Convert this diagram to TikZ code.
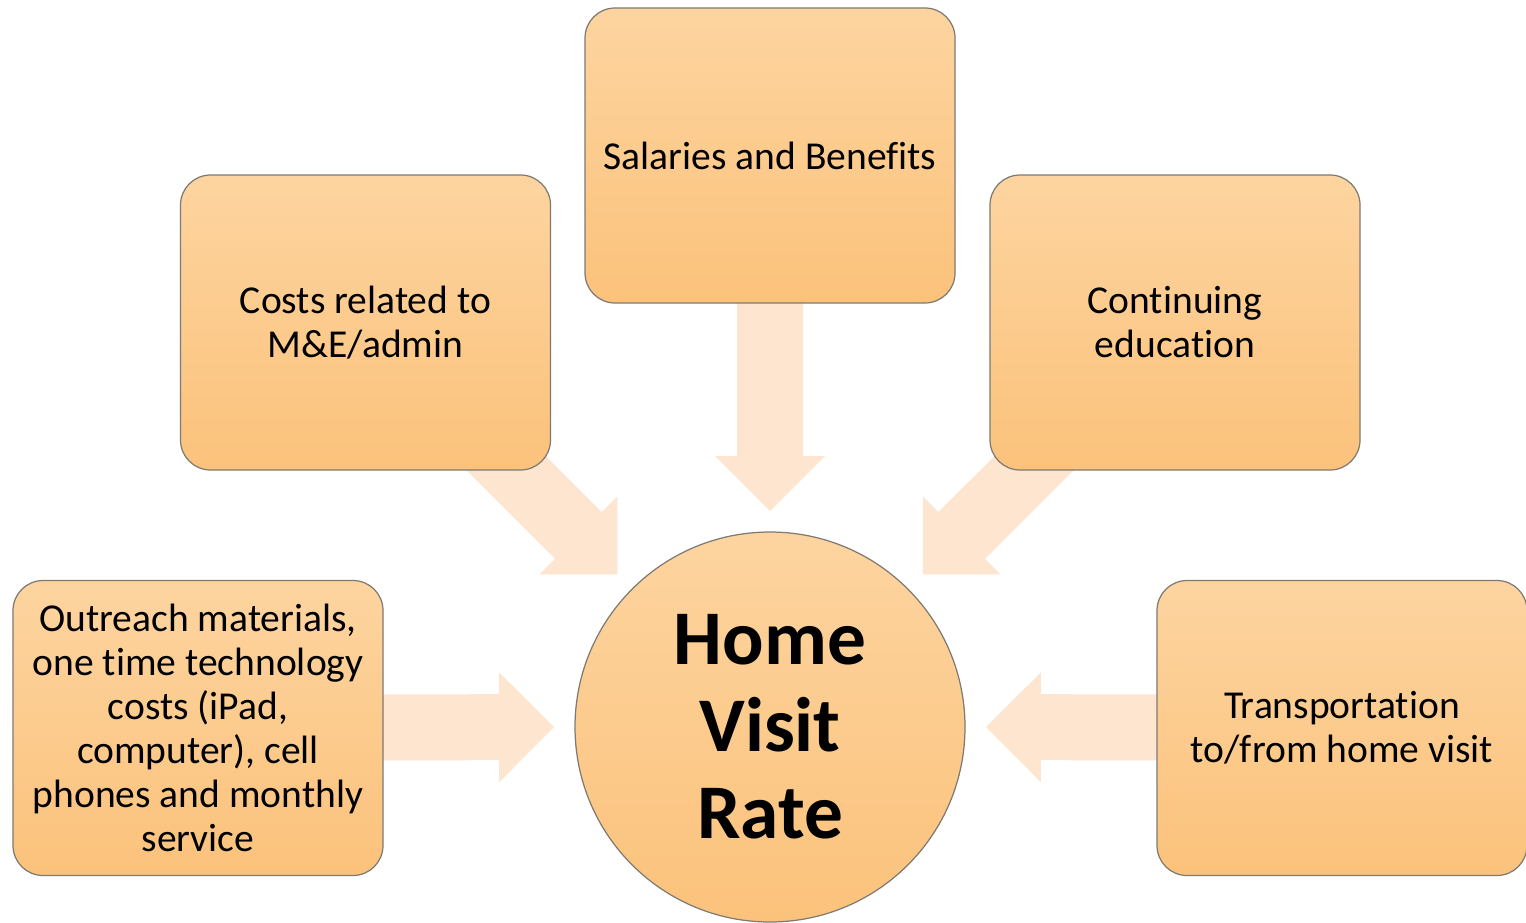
\documentclass[tikz,border=0pt]{standalone}
\usepackage{fontspec}
\setmainfont{Carlito}[Ligatures=NoCommon]
\usepackage{xcolor}
\usepackage{tikz}
\usetikzlibrary{calc,backgrounds}
\definecolor{boxtop}{HTML}{FDD4A0}
\definecolor{boxbot}{HTML}{FBC27B}
\definecolor{edge}{HTML}{7E7A72}
\definecolor{flow}{HTML}{FDE5CF}
\tikzset{
  costbox/.style={draw=edge, line width=0.7pt, rounded corners=0.6cm,
    top color=boxtop, bottom color=boxbot, minimum width=7.4cm,
    minimum height=5.9cm, align=center, inner sep=0pt,
    font=\fontsize{22.5}{25}\selectfont},
  hub/.style={circle, draw=edge, line width=0.7pt, top color=boxtop,
    bottom color=boxbot, minimum size=7.8cm, inner sep=0pt, align=center,
    font=\fontsize{44}{49.5}\selectfont\bfseries},
  flowarr/.style={fill=flow}
}
% fat arrow from #1 to tip #2
\newcommand{\fatarrow}[2]{%
  \coordinate (hb) at ($(#2)!1.1cm!(#1)$);
  \fill[flowarr] ($(#1)!0.66cm!90:(#2)$) -- ($(hb)!0.66cm!90:(#2)$)
    -- ($(hb)!1.1cm!90:(#2)$) -- (#2) -- ($(hb)!1.1cm!-90:(#2)$)
    -- ($(hb)!0.66cm!-90:(#2)$) -- ($(#1)!0.66cm!-90:(#2)$) -- cycle;
}

\begin{document}
\begin{tikzpicture}
  \useasboundingbox (0,0) rectangle (30.52,-18.44);

  % centre
  \node[hub] (hvr) at (15.4,-14.54) {Home\\Visit\\Rate};

  % cost boxes
  \node[costbox] (sal) at (15.4,-3.11) {Salaries and Benefits};
  \node[costbox] (adm) at (7.31,-6.45) {Costs related to\\M\&E/admin};
  \node[costbox] (edu) at (23.5,-6.45) {Continuing\\education};
  \node[costbox] (outr) at (3.96,-14.56) {Outreach materials,\\one time technology\\costs (iPad,\\computer), cell\\phones and monthly\\service};
  \node[costbox] (trans) at (26.84,-14.56) {Transportation\\to/from home visit};

  % arrow tips round the circle
  \coordinate (t90) at ($(hvr.center)+(90:4.32cm)$);
  \coordinate (t135) at ($(hvr.center)+(135:4.32cm)$);
  \coordinate (t45) at ($(hvr.center)+(45:4.32cm)$);
  \coordinate (t180) at ($(hvr.center)+(180:4.32cm)$);
  \coordinate (t0) at ($(hvr.center)+(0:4.32cm)$);

  \begin{scope}[on background layer]
    \fatarrow{sal.center}{t90}
    \fatarrow{adm.center}{t135}
    \fatarrow{edu.center}{t45}
    \fatarrow{outr.center}{t180}
    \fatarrow{trans.center}{t0}
  \end{scope}
\end{tikzpicture}
\end{document}
